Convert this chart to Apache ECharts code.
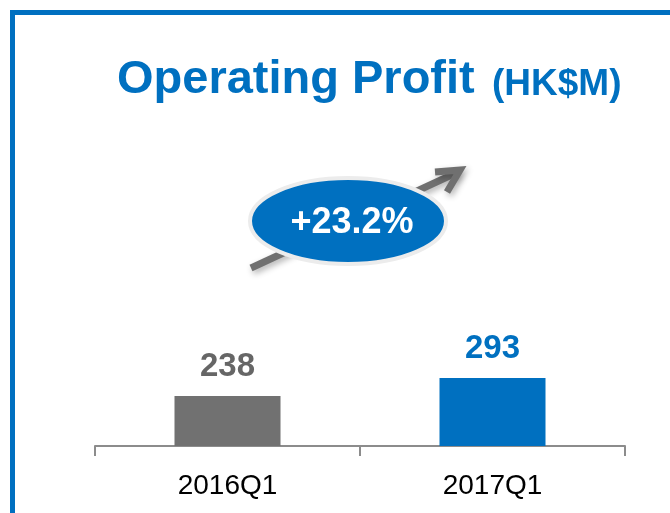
<!DOCTYPE html>
<html lang="en">
<head>
    <meta charset="UTF-8">
    <title>Operating Profit</title>
    <style>
        html, body { margin: 0; padding: 0; background: #fff; }
        #container { width: 670px; height: 513px; }
    </style>
</head>
<body>
<div id="container"></div>
<script src="https://cdn.jsdelivr.net/npm/echarts@6/dist/echarts.min.js"></script>
<script>
    // data
    var categories = ['2016Q1', '2017Q1'];
    var profit = [238, 293];
    var barColors = ['#717171', '#0070C0'];
    var labelColors = ['#666666', '#0070C0'];
    var growthText = '+23.2%';

    var FONT = "'Liberation Sans', Arial, sans-serif";
    var BLUE = '#0070C0';

    var myChart = echarts.init(document.getElementById('container'));

    var barData = profit.map(function (v, i) {
        return {
            value: v,
            itemStyle: { color: barColors[i] },
            label: { color: labelColors[i] }
        };
    });

    var option = {
        backgroundColor: '#fff',
        animation: false,
        grid: { left: 95, right: 45, top: 119, bottom: 67 },
        xAxis: {
            type: 'category',
            data: categories,
            axisLine: { lineStyle: { color: '#8c8c8c', width: 2 } },
            axisTick: { show: true, length: 10, lineStyle: { color: '#8c8c8c', width: 2 } },
            axisLabel: { fontSize: 28, color: '#000', fontFamily: FONT, margin: 26 }
        },
        yAxis: {
            type: 'value',
            min: 85,
            max: 1085,
            show: false,
            splitLine: { show: false }
        },
        series: [{
            type: 'bar',
            data: barData,
            barWidth: 106,
            label: {
                show: true,
                position: 'top',
                distance: 13,
                fontSize: 33,
                fontWeight: 'bold',
                fontFamily: FONT
            }
        }],
        graphic: [
            // frame
            {
                type: 'rect',
                shape: { x: 12.5, y: 12.5, width: 700, height: 560 },
                style: { fill: 'none', stroke: BLUE, lineWidth: 5 }
            },
            // title
            {
                type: 'text',
                x: 117, y: 80,
                style: {
                    text: 'Operating Profit',
                    fill: BLUE, fontSize: 47, fontWeight: 'bold', fontFamily: FONT,
                    align: 'left', verticalAlign: 'middle'
                }
            },
            {
                type: 'text',
                x: 492, y: 85,
                style: {
                    text: '(HK$M)',
                    fill: BLUE, fontSize: 37, fontWeight: 'bold', fontFamily: FONT,
                    align: 'left', verticalAlign: 'middle'
                }
            },
            // growth arrow
            {
                type: 'line',
                z: 10,
                shape: { x1: 251, y1: 268, x2: 458, y2: 172 },
                style: {
                    stroke: '#707070', lineWidth: 7,
                    shadowBlur: 6, shadowColor: 'rgba(0,0,0,0.3)', shadowOffsetX: 2, shadowOffsetY: 3
                }
            },
            {
                type: 'polyline',
                z: 10,
                shape: { points: [[435, 172], [460, 170], [447, 192]] },
                style: {
                    stroke: '#707070', lineWidth: 7, fill: 'none', lineJoin: 'miter',
                    shadowBlur: 6, shadowColor: 'rgba(0,0,0,0.3)', shadowOffsetX: 2, shadowOffsetY: 3
                }
            },
            // growth bubble
            {
                type: 'ellipse',
                z: 20,
                shape: { cx: 348, cy: 221, rx: 98, ry: 43 },
                style: { fill: BLUE, stroke: '#ececec', lineWidth: 4 }
            },
            {
                type: 'text',
                z: 21,
                x: 352, y: 223,
                style: {
                    text: growthText,
                    fill: '#fff', fontSize: 36, fontWeight: 'bold', fontFamily: FONT,
                    align: 'center', verticalAlign: 'middle'
                }
            }
        ]
    };

    myChart.setOption(option, true);
</script>
</body>
</html>
